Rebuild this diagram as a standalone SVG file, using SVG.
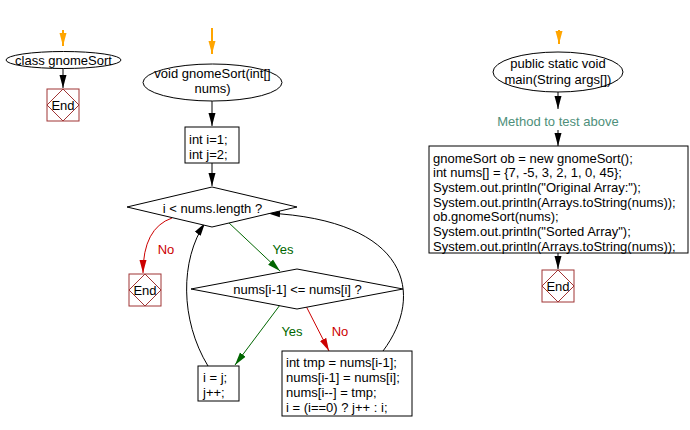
<svg xmlns="http://www.w3.org/2000/svg" width="690" height="430" viewBox="0 0 690 430">
<defs>
<style>
text{font-family:"Liberation Sans",Arial,sans-serif;font-size:13px;fill:#000}
.c{text-anchor:middle}
.shape{fill:#fff;stroke:#000;stroke-width:1}
.end{fill:#fff;stroke:#A03535;stroke-width:1}
.endd{fill:none;stroke:#A03535;stroke-width:1}
.ln{fill:none;stroke:#000;stroke-width:1}
.or{fill:none;stroke:#FFA500;stroke-width:2}
.rd{fill:none;stroke:#CC0000;stroke-width:1}
.gr{fill:none;stroke:#006600;stroke-width:1}
.red{fill:#CC0000}
.grn{fill:#006600}
.note{fill:#4E8F7A}
</style>
<marker id="ab" markerWidth="13" markerHeight="8" refX="13" refY="4" orient="auto" markerUnits="userSpaceOnUse"><path d="M0,0.5 L13,4 L0,7.5 z" fill="#000"/></marker>
<marker id="ao" markerWidth="13" markerHeight="8" refX="13" refY="4" orient="auto" markerUnits="userSpaceOnUse"><path d="M0,0.5 L13,4 L0,7.5 z" fill="#FFA500"/></marker>
<marker id="ar" markerWidth="13" markerHeight="8" refX="13" refY="4" orient="auto" markerUnits="userSpaceOnUse"><path d="M0,0.5 L13,4 L0,7.5 z" fill="#CC0000"/></marker>
<marker id="ag" markerWidth="13" markerHeight="8" refX="13" refY="4" orient="auto" markerUnits="userSpaceOnUse"><path d="M0,0.5 L13,4 L0,7.5 z" fill="#006600"/></marker>
</defs>
<rect width="690" height="430" fill="#fff"/>

<g id="connectors">
<line class="or" x1="63" y1="30" x2="63" y2="46" marker-end="url(#ao)"/>
<line class="ln" x1="63" y1="68" x2="63" y2="88" marker-end="url(#ab)"/>
<line class="or" x1="212" y1="28" x2="212" y2="54" marker-end="url(#ao)"/>
<line class="ln" x1="212" y1="101" x2="212" y2="126" marker-end="url(#ab)"/>
<line class="ln" x1="212" y1="163" x2="212" y2="186" marker-end="url(#ab)"/>
<path class="rd" d="M172,218 Q143,228 143,273" marker-end="url(#ar)"/>
<line class="gr" x1="228" y1="222" x2="280" y2="271" marker-end="url(#ag)"/>
<line class="gr" x1="280" y1="305" x2="235" y2="365" marker-end="url(#ag)"/>
<line class="rd" x1="306" y1="306" x2="329" y2="351" marker-end="url(#ar)"/>
<path class="ln" d="M208,366 C180,320 180,260 205,223" marker-end="url(#ab)"/>
<path class="ln" d="M383,351 C425,295 410,220 267,213" marker-end="url(#ab)"/>
<line class="or" x1="559" y1="30" x2="559" y2="44" marker-end="url(#ao)"/>
<line class="ln" x1="558" y1="92" x2="558" y2="109" marker-end="url(#ab)"/>
<line class="ln" x1="558" y1="130" x2="558" y2="146" marker-end="url(#ab)"/>
<line class="ln" x1="558" y1="253" x2="558" y2="269" marker-end="url(#ab)"/>
<text class="c red" x="166" y="254">No</text>
<text class="c grn" x="283" y="254">Yes</text>
<text class="c grn" x="292" y="336">Yes</text>
<text class="c red" x="340" y="336">No</text>
<text class="c note" x="558" y="125.5">Method to test above</text>
</g>

<g id="classStart">
<ellipse class="shape" cx="63.5" cy="60" rx="57.5" ry="8.5"/>
<text class="c" x="63.5" y="64.5">class gnomeSort</text>
</g>
<g id="classEnd">
<rect class="end" x="47" y="89" width="32" height="32"/>
<path class="endd" d="M63,89 L79,105 L63,121 L47,105 z"/>
<text class="c" x="63" y="109.5">End</text>
</g>

<g id="methodStart">
<ellipse class="shape" cx="212.5" cy="82.5" rx="69.5" ry="18.5"/>
<text class="c" x="212.5" y="78">void gnomeSort(int[]</text>
<text class="c" x="212.5" y="93">nums)</text>
</g>
<g id="init">
<rect class="shape" x="185" y="127" width="54" height="36"/>
<text x="189" y="143.5">int i=1;</text>
<text x="189" y="159">int j=2;</text>
</g>
<g id="cond1">
<path class="shape" d="M212,187 L297,207 L212,227 L127,207 z"/>
<text class="c" x="212.5" y="212.5">i &lt; nums.length ?</text>
</g>
<g id="methodEnd">
<rect class="end" x="129" y="274" width="32" height="32"/>
<path class="endd" d="M145,274 L161,290 L145,306 L129,290 z"/>
<text class="c" x="145" y="294.5">End</text>
</g>
<g id="cond2">
<path class="shape" d="M297,269 L403,289 L297,309 L191,289 z"/>
<text class="c" x="297.5" y="294">nums[i-1] &lt;= nums[i] ?</text>
</g>
<g id="advance">
<rect class="shape" x="198" y="366" width="41" height="35"/>
<text x="203" y="382">i = j;</text>
<text x="203" y="397">j++;</text>
</g>
<g id="swap">
<rect class="shape" x="282" y="351" width="130" height="65"/>
<text x="286" y="367">int tmp = nums[i-1];</text>
<text x="286" y="382">nums[i-1] = nums[i];</text>
<text x="286" y="397">nums[i--] = tmp;</text>
<text x="286" y="412">i = (i==0) ? j++ : i;</text>
</g>

<g id="mainStart">
<ellipse class="shape" cx="558" cy="72" rx="65" ry="20"/>
<text class="c" x="558" y="67.5">public static void</text>
<text class="c" x="558" y="83.5">main(String args[])</text>
</g>
<g id="mainBody">
<rect class="shape" x="429" y="146" width="259" height="107"/>
<text x="433" y="162.5">gnomeSort ob = new gnomeSort();</text>
<text x="433" y="176.5">int nums[] = {7, -5, 3, 2, 1, 0, 45};</text>
<text x="433" y="191.5">System.out.println("Original Array:");</text>
<text x="433" y="206.5">System.out.println(Arrays.toString(nums));</text>
<text x="433" y="220.5">ob.gnomeSort(nums);</text>
<text x="433" y="235.5">System.out.println("Sorted Array");</text>
<text x="433" y="250.5">System.out.println(Arrays.toString(nums));</text>
</g>
<g id="mainEnd">
<rect class="end" x="542" y="270" width="32" height="32"/>
<path class="endd" d="M558,270 L574,286 L558,302 L542,286 z"/>
<text class="c" x="558" y="290.5">End</text>
</g>
</svg>
